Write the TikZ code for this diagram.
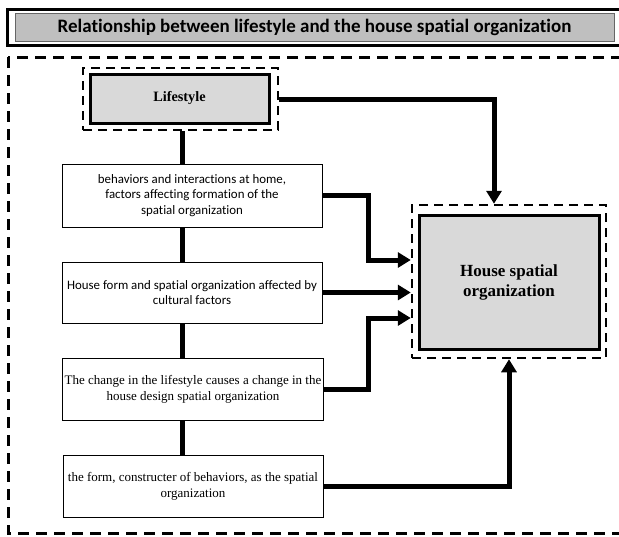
\documentclass[tikz,border=0pt]{standalone}
\usepackage{fontspec}
\setmainfont{Liberation Serif}
\newfontfamily\calfont[Ligatures={NoCommon}]{Carlito}
\usetikzlibrary{arrows.meta,calc}
\definecolor{titlegray}{HTML}{BFBFBF}
\definecolor{boxgray}{HTML}{D9D9D9}
\tikzset{
  bigdash/.style={line width=3pt,dash pattern=on 11pt off 7pt},
  smalldash/.style={draw,line width=2.5pt,dash pattern=on 9pt off 6pt},
  keybox/.style={draw,line width=3pt,fill=boxgray,font=\bfseries,align=center,inner sep=0pt},
  infobox/.style={draw,line width=0.9pt,fill=white,minimum width=260pt,align=center,inner sep=2pt},
  trunk/.style={line width=5pt},
  link/.style={line width=5pt,-{Triangle[length=13pt,width=15pt]}},
}
\begin{document}
\begin{tikzpicture}[x=1pt,y=-1pt]
\clip (0,0) rectangle (619,536);
\fill[white] (0,0) rectangle (619,536);
% title
\draw[line width=3pt] (7,9) rectangle (630,45);
\node[draw=black!60,line width=1pt,fill=titlegray,minimum width=599pt,minimum height=28pt,inner sep=0pt,
  font=\calfont\bfseries\fontsize{19}{21}\selectfont] (title) at (314.5,27)
  {Relationship between lifestyle and the house spatial organization};
% outer dashed frame
\draw[bigdash] (8,57) rectangle (640,533);
% lifestyle
\node[smalldash,minimum width=195pt,minimum height=62pt] (lifeD) at (180.5,99) {};
\node[keybox,minimum width=179pt,minimum height=49pt,font=\bfseries\fontsize{14.3}{16}\selectfont] (life) at (179.5,98.5) {Lifestyle};
% house
\node[smalldash,minimum width=194pt,minimum height=153pt] (houseD) at (509,281.5) {};
\node[keybox,minimum width=180pt,minimum height=134pt,font=\bfseries\fontsize{17}{20}\selectfont] (house) at (509,282) {House spatial\\organization};
% info boxes
\node[infobox,minimum height=63pt,font=\calfont\fontsize{12.9}{15.5}\selectfont] (b1) at (192,195.5)
  {behaviors and interactions at home,\\factors affecting formation of the\\spatial organization};
\node[infobox,minimum height=61pt,font=\calfont\fontsize{12.9}{15.5}\selectfont] (b2) at (192,292.5)
  {House form and spatial organization affected by\\cultural factors};
\node[infobox,minimum height=62pt,font=\fontsize{13}{16}\selectfont] (b3) at (193,389)
  {The change in the lifestyle causes a change in the\\house design spatial organization};
\node[infobox,minimum height=62pt,font=\fontsize{13}{16}\selectfont] (b4) at (193,486)
  {the form, constructer of behaviors, as the spatial\\organization};
% trunk
\coordinate (tx) at (182,0);
\draw[trunk] (lifeD.south -| tx) -- (b1.north -| tx);
\draw[trunk] (b1.south -| tx) -- (b2.north -| tx);
\draw[trunk] (b2.south -| tx) -- (b3.north -| tx);
\draw[trunk] (b3.south -| tx) -- (b4.north -| tx);
% arrows
\draw[link] (lifeD.east) -| ($(houseD.north)+(-15,0)$);
\draw[link] (b1.east) -- ++(46,0) |- ($(houseD.west)+(0,-21.5)$);
\draw[link] (b2.east) -- (houseD.west |- b2.east);
\draw[link] (b3.east) -- ++(45,0) |- ($(houseD.west)+(0,36.5)$);
\draw[link] (b4.east) -| (houseD.south);
\end{tikzpicture}
\end{document}
